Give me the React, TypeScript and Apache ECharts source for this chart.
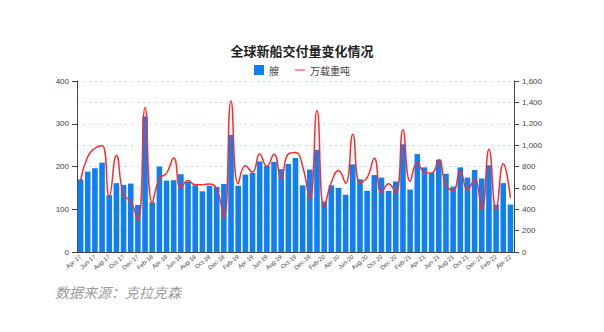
import React, { useEffect, useRef } from "react";
import * as echarts from "echarts";

const monthNames = ["Jan","Feb","Mar","Apr","May","Jun","Jul","Aug","Sep","Oct","Nov","Dec"];
const categories: string[] = (() => {
  const out: string[] = [];
  let m = 3, y = 17;
  for (let i = 0; i < 61; i++) {
    out.push(`${monthNames[m]}-${y}`);
    m++;
    if (m === 12) { m = 0; y++; }
  }
  return out;
})();

const ships = [
  170, 188, 196, 209, 133, 161, 157, 160, 110, 317,
  116, 200, 167, 168, 182, 164, 156, 142, 155, 152,
  159, 274, 155, 181, 185, 212, 201, 211, 194, 206,
  220, 156, 193, 239, 118, 156, 150, 134, 205, 170,
  143, 180, 174, 143, 165, 252, 146, 229, 198, 185,
  216, 183, 153, 198, 174, 192, 172, 203, 111, 161,
  111,
];

const dwt = [
  669, 893, 971, 996, 520, 903, 535, 473, 296, 1351,
  458, 685, 738, 880, 598, 669, 629, 630, 637, 590,
  320, 1413, 638, 806, 747, 918, 800, 915, 685, 918,
  931, 800, 495, 1323, 420, 650, 763, 644, 1102, 650,
  695, 878, 557, 638, 551, 1143, 660, 837, 747, 738,
  862, 623, 576, 760, 582, 682, 395, 962, 395, 825,
  504,
];

export default function App() {
  const ref = useRef<HTMLDivElement>(null);
  useEffect(() => {
    if (!ref.current) return;
    const chart = echarts.init(ref.current, undefined, { renderer: "svg" });
    chart.setOption({
      animation: false,
      backgroundColor: "#fff",
      title: {
        text: "全球新船交付量变化情况",
        left: "center",
        top: 31,
        textStyle: { fontSize: 13, fontWeight: "bold", color: "#222", fontFamily: "Noto Sans CJK SC" },
      },
      legend: {
        top: 52,
        left: "center",
        itemWidth: 10,
        itemHeight: 10,
        itemGap: 16,
        textStyle: { fontSize: 10, color: "#444", fontFamily: "Noto Sans CJK SC" },
        data: [
          { name: "艘", icon: "rect" },
          { name: "万载重吨", icon: "path://M0,4 L20,4 L20,6 L0,6 Z" },
        ],
      },
      grid: { left: 69, right: 82, top: 73, bottom: 72 },
      xAxis: {
        type: "category",
        data: categories,
        axisLine: { lineStyle: { color: "#444" } },
        axisTick: { alignWithLabel: true, interval: 1, lineStyle: { color: "#444" } },
        axisLabel: {
          interval: 1,
          rotate: 40,
          fontSize: 6,
          color: "#444",
          margin: 4,
          fontFamily: "Liberation Sans",
        },
      },
      yAxis: [
        {
          type: "value",
          min: 0,
          max: 400,
          interval: 100,
          axisLine: { show: true, lineStyle: { color: "#444" } },
          axisTick: { show: true, lineStyle: { color: "#444" } },
          axisLabel: { fontSize: 8, color: "#444", fontFamily: "Liberation Sans" },
          splitLine: { show: false },
        },
        {
          type: "value",
          min: 0,
          max: 1600,
          interval: 200,
          position: "right",
          axisLine: { show: true, lineStyle: { color: "#444" } },
          axisTick: { show: true, lineStyle: { color: "#444" } },
          axisLabel: {
            fontSize: 8,
            color: "#444",
            fontFamily: "Liberation Sans",
            formatter: (v: number) => v.toLocaleString("en-US"),
          },
          splitLine: { show: true, lineStyle: { color: "#bcdcfb", type: [2, 4], width: 1 } },
        },
      ],
      series: [
        {
          name: "艘",
          type: "bar",
          data: ships,
          yAxisIndex: 0,
          barCategoryGap: "22%",
          itemStyle: { color: "#0f7ff2" },
        },
        {
          name: "万载重吨",
          type: "line",
          data: dwt,
          yAxisIndex: 1,
          smooth: 0.5,
          showSymbol: false,
          symbol: "none",
          itemStyle: { color: "#ff2a2a" },
          lineStyle: { color: "#ff2a2a", width: 1.5 },
        },
      ],
      graphic: [
        {
          type: "text",
          left: 47,
          top: 277,
          style: {
            text: "数据来源：克拉克森",
            fontSize: 14,
            fontStyle: "italic",
            fill: "#9a9a9a",
            fontFamily: "Noto Sans CJK SC",
          },
        },
      ],
    });
    return () => chart.dispose();
  }, []);
  return <div ref={ref} style={{ width: 588, height: 316 }} />;
}
